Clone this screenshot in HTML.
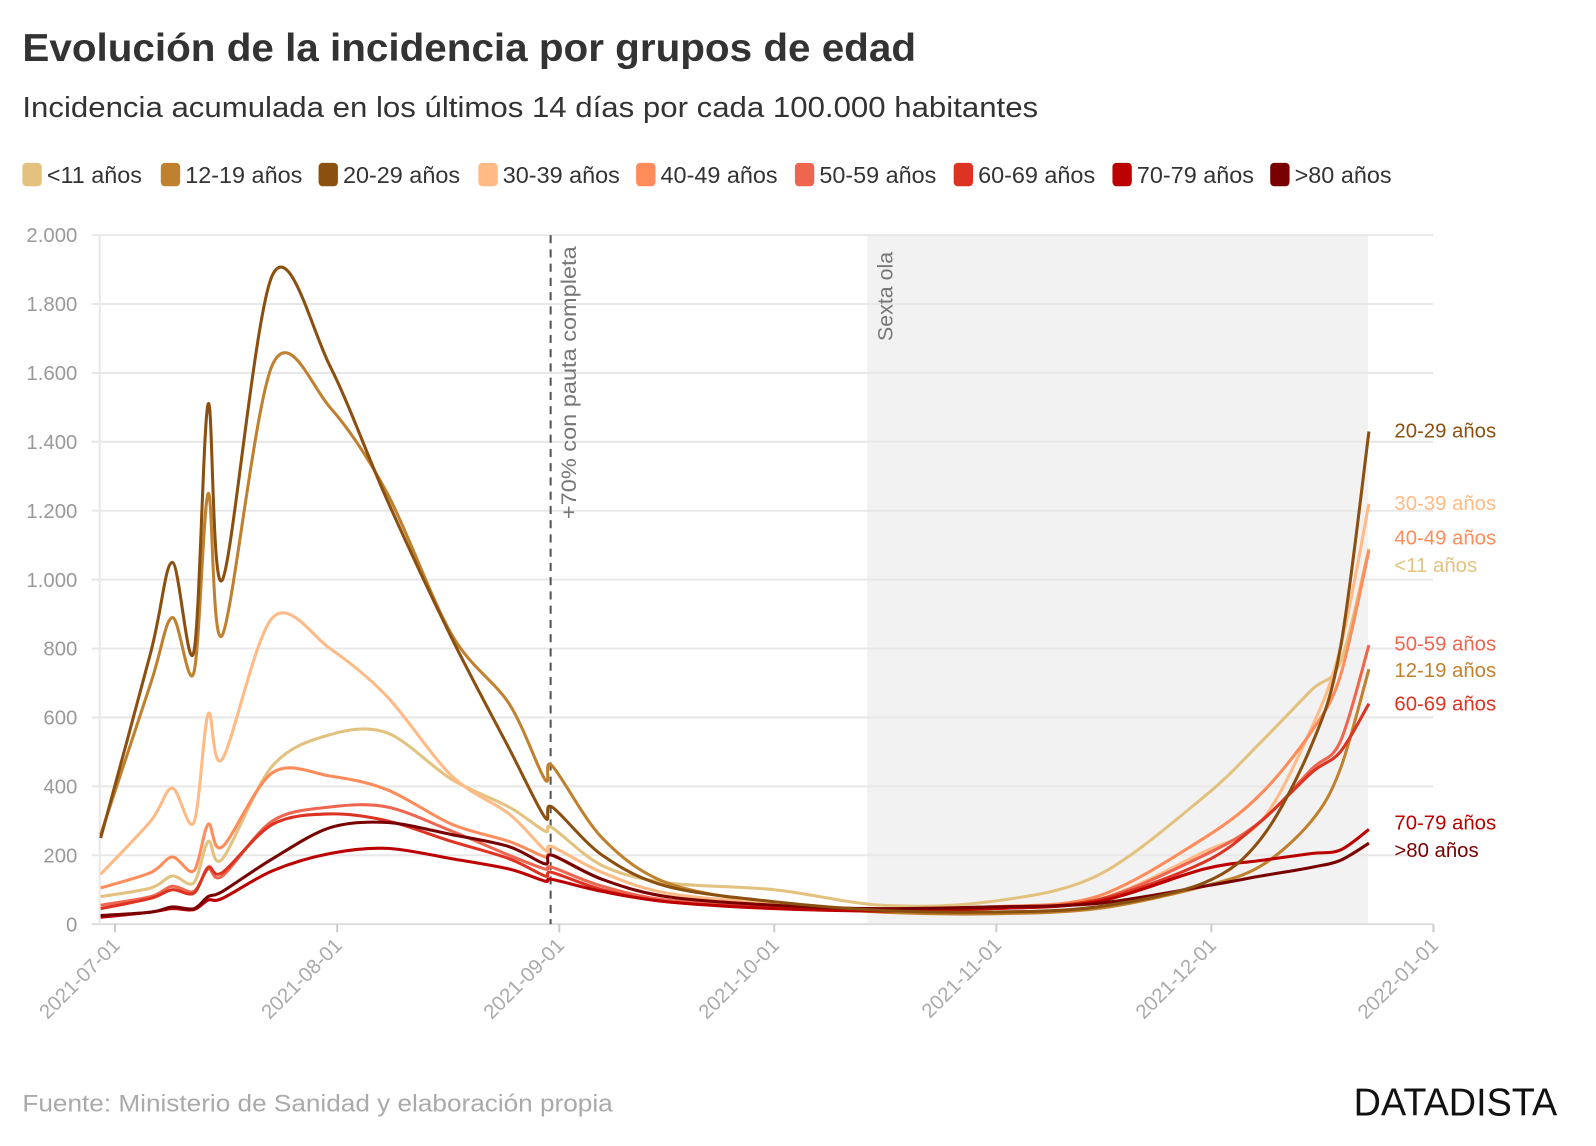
<!DOCTYPE html>
<html><head><meta charset="utf-8">
<style>
body{margin:0;background:#fff;font-family:"Liberation Sans",sans-serif;}
svg{display:block}
</style></head>
<body>
<svg id="chart" width="1596" height="1146" viewBox="0 0 1596 1146">
<g transform="scale(1.0178)">
<text x="22" y="60" font-size="38" font-weight="bold" fill="#333" textLength="878" lengthAdjust="spacingAndGlyphs">Evolución de la incidencia por grupos de edad</text>
<text x="22" y="115" font-size="28" fill="#333" textLength="998" lengthAdjust="spacingAndGlyphs">Incidencia acumulada en los últimos 14 días por cada 100.000 habitantes</text>
<g id="legend"></g>
<rect x="852" y="231" width="492" height="677" fill="#f2f2f2"/>
<g id="grid"></g>
<line x1="541" y1="231" x2="541" y2="908" stroke="#555" stroke-width="2" stroke-dasharray="8,6"/>
<text transform="translate(566,510) rotate(-90)" font-size="21" fill="#777" textLength="268" lengthAdjust="spacingAndGlyphs">+70% con pauta completa</text>
<text transform="translate(877,335) rotate(-90)" font-size="21" fill="#777">Sexta ola</text>
<g id="series"></g>
<g id="endlabels"></g>
<text x="22" y="1092" font-size="24" fill="#aaa" textLength="580" lengthAdjust="spacingAndGlyphs">Fuente: Ministerio de Sanidad y elaboración propia</text>
<text x="1530" y="1096" font-size="38" fill="#111" text-anchor="end" textLength="200" lengthAdjust="spacingAndGlyphs">DATADISTA</text>
</g>
</svg>
<script>
const days = [-2,5,8,11,13,15,22,30,38,47,55,60,61,68,77,92,107,122,137,152,160,167,171,175];
const s_lt11 = [80,105,140,120,240,190,460,550,555,420,340,270,280,170,120,100,55,65,140,370,530,680,760,1090];
const s_12_19 = [260,700,890,730,1250,840,1625,1500,1250,840,640,420,460,250,120,60,35,30,45,110,170,300,450,740];
const s_20_29 = [250,790,1050,790,1510,1000,1885,1620,1230,830,510,310,340,200,110,65,40,35,50,120,250,520,800,1430];
const s_30_39 = [145,300,395,295,610,480,890,800,660,430,320,215,225,150,90,60,40,45,70,210,300,570,800,1220];
const s_40_49 = [105,150,195,155,290,225,440,430,390,290,240,195,200,130,80,55,40,50,80,250,380,560,720,1085];
const s_50_59 = [55,80,110,95,160,140,300,340,340,270,200,160,165,110,70,50,40,45,70,200,300,450,530,810];
const s_60_69 = [45,75,100,90,165,150,290,320,300,240,190,140,150,100,65,48,40,45,70,180,300,440,500,640];
const s_70_79 = [20,35,45,42,70,75,155,205,220,190,160,125,130,95,65,45,38,45,65,160,185,205,215,275];
const s_80 = [25,35,50,45,80,95,190,280,295,260,225,175,200,130,80,55,45,50,60,110,140,165,185,235];
const yTicks = [0,200,400,600,800,1000,1200,1400,1600,1800,2000];
const yTickLabels = ["0","200","400","600","800","1.000","1.200","1.400","1.600","1.800","2.000"];
const xTickDays = [0,31,62,92,123,153,184];
const xTickLabels = ["2021-07-01","2021-08-01","2021-09-01","2021-10-01","2021-11-01","2021-12-01","2022-01-01"];
const groupNames = ["<11 años","12-19 años","20-29 años","30-39 años","40-49 años","50-59 años","60-69 años","70-79 años",">80 años"];
const groupColors = ["#E2C27E","#C0812F","#8B5010","#FFBA85","#FF8C5A","#EE6650","#DD3322","#BB0000","#780000"];
const endLabelY = [555,658,423,494,528,632,691,808,835];
const legendX = [22,158,313,470,625,781,937,1093,1248];

const NS="http://www.w3.org/2000/svg";
const xS = d => 113 + d*7.04;
const yS = v => 908 - v*0.3385;
function mk(tag, attrs, parent){const e=document.createElementNS(NS,tag);for(const k in attrs)e.setAttribute(k,attrs[k]);parent.appendChild(e);return e;}

const grid=document.getElementById('grid');
yTicks.forEach((t,i)=>{
  const l=mk('line',{x1:90,x2:1408,y1:yS(t),y2:yS(t),stroke:t===0?'#ddd':'#e8e8e8','stroke-width':2},grid);
  
  
  const tx=mk('text',{x:76,y:yS(t)+7,'text-anchor':'end','font-size':20,fill:'#999'},grid);
  tx.textContent=yTickLabels[i];
  
  
});
mk('line',{x1:98,x2:98,y1:231,y2:908,stroke:'#e8e8e8','stroke-width':2},grid);
xTickDays.forEach((d,i)=>{
  const x=xS(d);
  const tk=mk('line',{x1:x,x2:x,y1:908,y2:916,stroke:'#ccc','stroke-width':2},grid);
  
  
  const tx=mk('text',{transform:`translate(${x+6},${930}) rotate(-45)`,'text-anchor':'end','font-size':20,fill:'#aaa'},grid);
  tx.textContent=xTickLabels[i];
  
  
});

const allSeries=[s_lt11,s_12_19,s_20_29,s_30_39,s_40_49,s_50_59,s_60_69,s_70_79,s_80];
const sg=document.getElementById('series');
function pathFor(vals){
  const p=days.map((d,i)=>[xS(d),yS(vals[i])]);
  let s=`M${p[0][0]},${p[0][1]}`;
  for(let i=0;i<p.length-1;i++){
    const p0=p[Math.max(0,i-1)],p1=p[i],p2=p[i+1],p3=p[Math.min(p.length-1,i+2)];
    const t=0.16;
    const c1=[p1[0]+(p2[0]-p0[0])*t,p1[1]+(p2[1]-p0[1])*t];
    const c2=[p2[0]-(p3[0]-p1[0])*t,p2[1]-(p3[1]-p1[1])*t];
    s+=` C${c1[0]},${c1[1]} ${c2[0]},${c2[1]} ${p2[0]},${p2[1]}`;
  }
  return s;
}
[0,1,3,4,5,6,7,8,2].forEach(gi=>{
  const path=mk('path',{d:pathFor(allSeries[gi]),fill:'none',stroke:groupColors[gi],'stroke-width':3,'stroke-linejoin':'round'},sg);
  
  
});

const el=document.getElementById('endlabels');
groupNames.forEach((n,i)=>{
  const t=mk('text',{x:1370,y:endLabelY[i]+7,'font-size':20,fill:groupColors[i]},el);
  t.textContent=n;
  
  
});

const lg=document.getElementById('legend');
groupNames.forEach((n,i)=>{
  const lx=legendX[i];
  const r=mk('rect',{x:lx,y:160,width:19,height:23,rx:4,fill:groupColors[i]},lg);
  
  
  const t=mk('text',{x:lx+24,y:180,'font-size':23,fill:'#333'},lg);
  t.textContent=n;
  
  
});
</script>
</body></html>
